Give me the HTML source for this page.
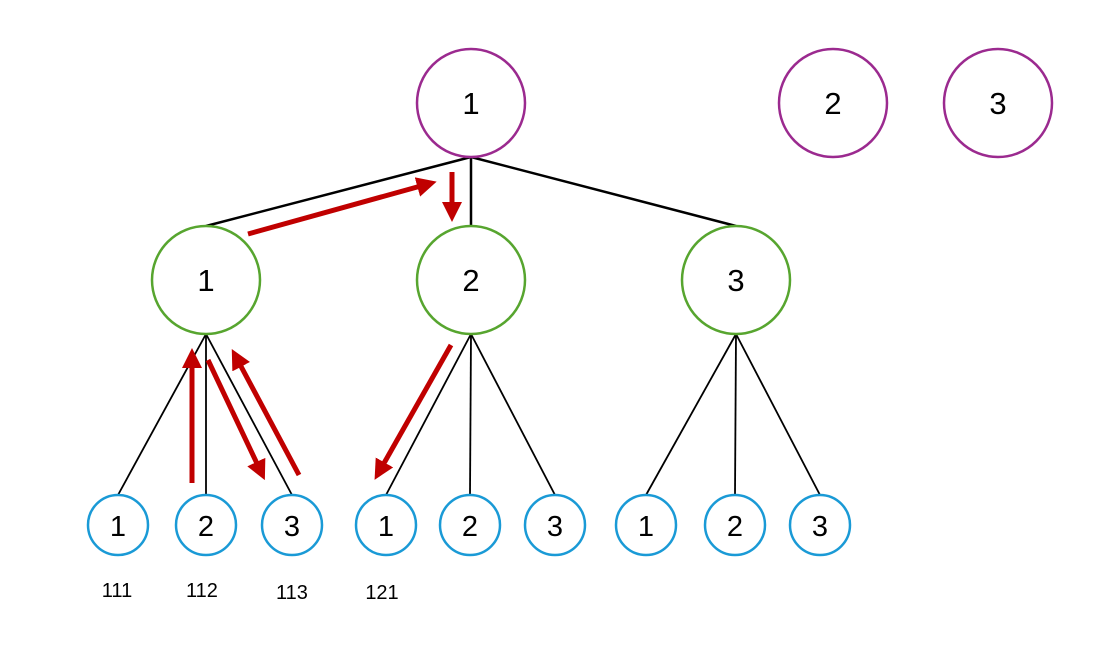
<!DOCTYPE html>
<html><head><meta charset="utf-8"><style>html,body{margin:0;padding:0;background:#fff;}</style></head>
<body>
<svg width="1101" height="646" viewBox="0 0 1101 646" xmlns="http://www.w3.org/2000/svg" font-family="Liberation Sans, DejaVu Sans, sans-serif">
<defs>
<marker id="ah" markerWidth="4" markerHeight="4" refX="2.2" refY="2" orient="auto" markerUnits="strokeWidth">
<path d="M0,0 L4,2 L0,4 z" fill="#c00000"/>
</marker>
</defs>
<g stroke="#000" stroke-width="2.5">
<line x1="471" y1="157" x2="206" y2="226"/>
<line x1="471" y1="157" x2="471" y2="226"/>
<line x1="471" y1="157" x2="736" y2="226"/>
</g>
<g stroke="#000" stroke-width="1.8">
<line x1="206" y1="334" x2="118" y2="495"/>
<line x1="206" y1="334" x2="206" y2="495"/>
<line x1="206" y1="334" x2="292" y2="495"/>
<line x1="471" y1="334" x2="386" y2="495"/>
<line x1="471" y1="334" x2="470" y2="495"/>
<line x1="471" y1="334" x2="555" y2="495"/>
<line x1="736" y1="334" x2="646" y2="495"/>
<line x1="736" y1="334" x2="735" y2="495"/>
<line x1="736" y1="334" x2="820" y2="495"/>
</g>
<g fill="#fff" stroke="#9b2a8f" stroke-width="2.5">
<circle cx="471" cy="103" r="54"/><circle cx="833" cy="103" r="54"/><circle cx="998" cy="103" r="54"/>
</g>
<g fill="#fff" stroke="#57a52f" stroke-width="2.5">
<circle cx="206" cy="280" r="54"/><circle cx="471" cy="280" r="54"/><circle cx="736" cy="280" r="54"/>
</g>
<g fill="#fff" stroke="#1a9ad6" stroke-width="2.5">
<circle cx="118" cy="525" r="30"/><circle cx="206" cy="525" r="30"/><circle cx="292" cy="525" r="30"/>
<circle cx="386" cy="525" r="30"/><circle cx="470" cy="525" r="30"/><circle cx="555" cy="525" r="30"/>
<circle cx="646" cy="525" r="30"/><circle cx="735" cy="525" r="30"/><circle cx="820" cy="525" r="30"/>
</g>
<g stroke="#c00000" stroke-width="5" marker-end="url(#ah)">
<line x1="248" y1="234" x2="428" y2="184"/>
<line x1="452" y1="172" x2="452" y2="213"/>
<line x1="192" y1="483" x2="192" y2="357"/>
<line x1="208" y1="360" x2="261" y2="472"/>
<line x1="299" y1="475" x2="236" y2="357"/>
<line x1="451" y1="345" x2="379" y2="472"/>
</g>
<g font-size="31" text-anchor="middle" fill="#000">
<text x="471" y="114">1</text><text x="833" y="114">2</text><text x="998" y="114">3</text>
<text x="206" y="291">1</text><text x="471" y="291">2</text><text x="736" y="291">3</text>
</g>
<g font-size="29" text-anchor="middle" fill="#000">
<text x="118" y="536">1</text><text x="206" y="536">2</text><text x="292" y="536">3</text>
<text x="386" y="536">1</text><text x="470" y="536">2</text><text x="555" y="536">3</text>
<text x="646" y="536">1</text><text x="735" y="536">2</text><text x="820" y="536">3</text>
</g>
<g font-size="20" text-anchor="middle" fill="#000">
<text x="117" y="597">111</text><text x="202" y="597">112</text><text x="292" y="599">113</text><text x="382" y="599">121</text>
</g>
</svg>
</body></html>
